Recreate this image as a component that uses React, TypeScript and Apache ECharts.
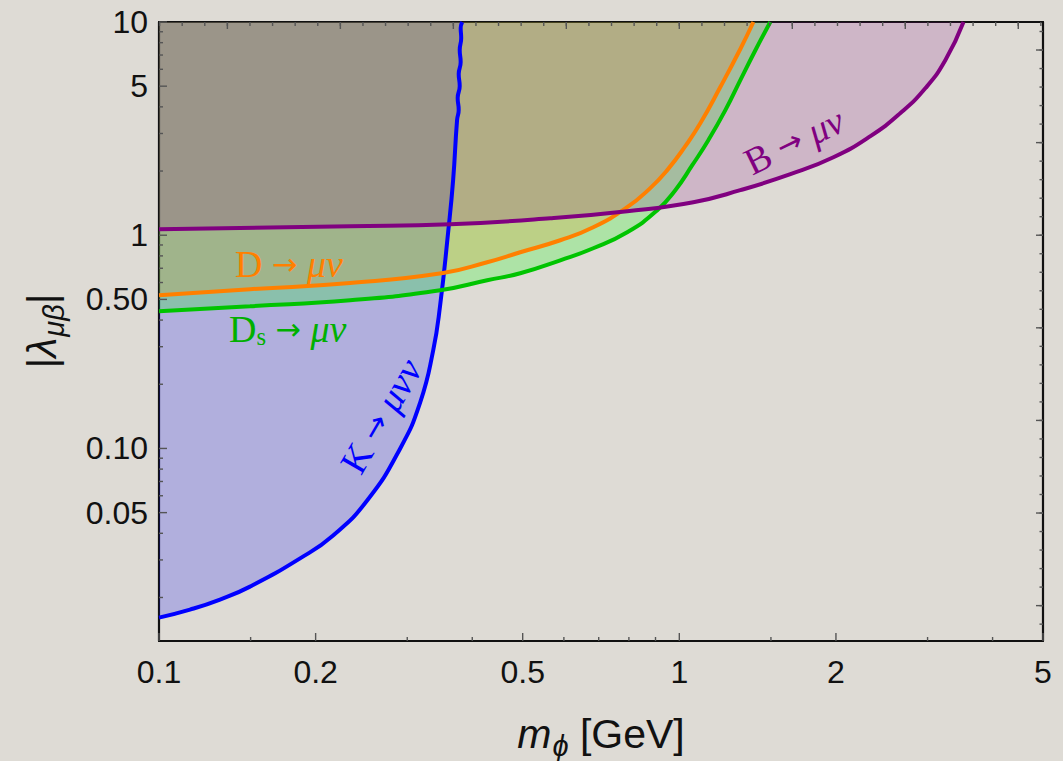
import React, { useEffect, useRef } from "react";
import * as echarts from "echarts";

const L = Math.log10;

// Axis ranges
const massRange = [0.1, 5];
const couplingRange = [0.0125, 10];

// Labelled ticks
const massTickValues = [0.1, 0.2, 0.5, 1, 2, 5];
const massTickLabels = ["0.1", "0.2", "0.5", "1", "2", "5"];
const massMinorTicks = [0.15, 0.3, 0.4, 0.6, 0.7, 0.8, 0.9, 1.5, 3, 4];
const couplingTickValues = [0.05, 0.1, 0.5, 1, 5, 10];
const couplingTickLabels = ["0.05", "0.10", "0.50", "1", "5", "10"];
const couplingMinorTicks = [
  0.02, 0.03, 0.04, 0.06, 0.07, 0.08, 0.09, 0.2, 0.3, 0.4, 0.6, 0.7, 0.8, 0.9,
  2, 3, 4, 6, 7, 8, 9,
];
// Mirror frame ticks on top / right sit at natural-log steps
const topMajorExponents = [-2, -1.5, -1, -0.5, 0, 0.5, 1, 1.5];
const topMinorStep = 0.1;
const rightMajorExponents = [-4, -3, -2, -1, 0, 1, 2];
const rightMinorStep = 0.2;

// K -> mu nu nu (numerically noisy near the kinematic edge)
const kMass = [
  0.1, 0.1147, 0.131, 0.1496, 0.1867, 0.2161, 0.2512, 0.2908, 0.3177, 0.3365,
  0.347, 0.3595, 0.3675, 0.374, 0.3767, 0.375, 0.3784, 0.3767, 0.38, 0.3784,
  0.3809, 0.38, 0.3826,
];
const kCoupling = [
  0.01609, 0.01754, 0.01955, 0.02249, 0.0305, 0.0391, 0.057, 0.1, 0.1644,
  0.2884, 0.469, 1.033, 1.81, 3.47, 3.87, 4.4, 5.01, 5.7, 6.49, 7.39, 8.41,
  9.37, 10,
];

// D -> mu nu
const dMass = [
  0.1, 0.1496, 0.233, 0.3516, 0.4273, 0.4946, 0.5905, 0.6833, 0.794, 0.8795,
  0.948, 1.027, 1.098, 1.199, 1.31, 1.388,
];
const dCoupling = [
  0.523, 0.558, 0.597, 0.665, 0.747, 0.832, 0.947, 1.09, 1.353, 1.663, 2.02,
  2.617, 3.356, 4.953, 7.47, 10,
];

// Ds -> mu nu
const dsMass = [
  0.1, 0.1496, 0.233, 0.347, 0.4273, 0.4946, 0.5905, 0.6833, 0.794, 0.9072,
  0.9824, 1.059, 1.137, 1.226, 1.31, 1.401, 1.496,
];
const dsCoupling = [
  0.4396, 0.464, 0.495, 0.552, 0.615, 0.663, 0.763, 0.869, 1.033, 1.31, 1.627,
  2.13, 2.79, 3.86, 5.34, 7.39, 10,
];

// B -> mu nu
const bMass = [
  0.1, 0.233, 0.3627, 0.5648, 0.794, 1.064, 1.31, 1.635, 1.978, 2.33, 2.661,
  2.973, 3.247, 3.517,
];
const bCoupling = [
  1.067, 1.102, 1.126, 1.2, 1.296, 1.429, 1.627, 1.933, 2.32, 2.916, 3.74, 4.9,
  6.63, 10,
];

const fontSans = '"Liberation Sans", Arial, Helvetica, sans-serif';
const fontSerif = '"Liberation Serif", "Times New Roman", "DejaVu Serif", serif';
const fontArrow = '"DejaVu Sans", "Liberation Sans", sans-serif';

const X_MIN = L(massRange[0]);
const X_MAX = L(massRange[1]);
const Y_MIN = L(couplingRange[0]);
const Y_MAX = L(couplingRange[1]);

const toPairs = (xs: number[], ys: number[]) => xs.map((x, i) => [L(x), L(ys[i])]);

const curves = [
  { name: "K", mass: kMass, coupling: kCoupling, line: "#0000ff", fill: "rgba(0,0,255,0.2)" },
  { name: "Ds", mass: dsMass, coupling: dsCoupling, line: "#00c400", fill: "rgba(0,255,0,0.22)" },
  { name: "D", mass: dMass, coupling: dCoupling, line: "#ff8000", fill: "rgba(255,128,0,0.19)" },
  { name: "B", mass: bMass, coupling: bCoupling, line: "#800080", fill: "rgba(128,0,128,0.17)" },
];

const labelFor = (v: number, values: number[], labels: string[]) => {
  const i = values.findIndex((t) => Math.abs(L(t) - v) < 1e-6);
  return i >= 0 ? labels[i] : "";
};

function buildTicks() {
  // [x, y, side, length]; side: 0 bottom, 1 top, 2 left, 3 right
  const out: number[][] = [];
  massTickValues.forEach((v) => out.push([L(v), Y_MIN, 0, 8]));
  massMinorTicks.forEach((v) => out.push([L(v), Y_MIN, 0, 4]));
  couplingTickValues.forEach((v) => out.push([X_MIN, L(v), 2, 8]));
  couplingMinorTicks.forEach((v) => out.push([X_MIN, L(v), 2, 4]));
  for (let k = -23; k <= 16; k++) {
    const v = Math.exp(k * topMinorStep);
    if (v >= massRange[0] && v <= massRange[1]) out.push([L(v), Y_MAX, 1, 4]);
  }
  topMajorExponents.forEach((e) => out.push([L(Math.exp(e)), Y_MAX, 1, 7]));
  for (let k = -22; k <= 12; k++) {
    const v = Math.exp(k * rightMinorStep);
    if (v >= couplingRange[0] && v <= couplingRange[1]) out.push([X_MAX, L(v), 3, 3.5]);
  }
  rightMajorExponents.forEach((e) => out.push([X_MAX, L(Math.exp(e)), 3, 7]));
  return out;
}

export default function App() {
  const ref = useRef<HTMLDivElement>(null);

  useEffect(() => {
    document.body.style.margin = "0";
    const chart = echarts.init(ref.current!, null, { renderer: "svg" });

    const areaSeries = curves.map((c) => ({
      type: "line",
      name: c.name + "-fill",
      data: toPairs(c.mass, c.coupling),
      xAxisIndex: 0,
      yAxisIndex: 0,
      symbol: "none",
      showSymbol: false,
      smooth: 0.5,
      silent: true,
      z: 2,
      lineStyle: { width: 0, opacity: 0 },
      areaStyle: { color: c.fill, opacity: 1, origin: "end" },
    }));

    const lineSeries = curves.map((c) => ({
      type: "line",
      name: c.name,
      data: toPairs(c.mass, c.coupling),
      xAxisIndex: 0,
      yAxisIndex: 0,
      symbol: "none",
      showSymbol: false,
      smooth: 0.5,
      silent: true,
      z: 3,
      lineStyle: { color: c.line, width: 4 },
    }));

    const tickSeries = {
      type: "custom",
      name: "frame-ticks",
      xAxisIndex: 0,
      yAxisIndex: 0,
      silent: true,
      clip: false,
      z: 6,
      dimensions: ["x", "y", "side", "len"],
      encode: { x: 0, y: 1 },
      data: buildTicks(),
      renderItem: (params: any, api: any) => {
        const p = api.coord([api.value(0), api.value(1)]);
        const side = api.value(2);
        const len = api.value(3);
        let x2 = p[0];
        let y2 = p[1];
        if (side === 0) y2 -= len;
        else if (side === 1) y2 += len;
        else if (side === 2) x2 += len;
        else x2 -= len;
        return {
          type: "line",
          shape: { x1: p[0], y1: p[1], x2, y2 },
          style: { stroke: "#555", lineWidth: 1.4 },
        };
      },
    };

    const frameLine = { show: true, onZero: false, lineStyle: { color: "#111", width: 2.2 } };

    const serifRich = (color: string, size: number) => ({
      r: { fontFamily: fontSerif, fontSize: size, fill: color },
      a: { fontFamily: fontArrow, fontSize: size * 0.8, fill: color },
      i: { fontFamily: fontSerif, fontSize: size, fontStyle: "italic", fill: color },
      s: { fontFamily: fontSerif, fontSize: size * 0.65, fill: color, padding: [14, 0, 0, 0] },
    });

    const curveLabel = (
      text: string,
      x: number,
      y: number,
      color: string,
      rotation: number,
      align: string,
    ) => ({
      type: "text",
      x,
      y,
      rotation,
      z: 20,
      silent: true,
      style: {
        text,
        rich: serifRich(color, 38),
        fill: color,
        font: `38px ${fontSerif}`,
        align,
        verticalAlign: "middle",
        textAlign: align,
        textVerticalAlign: "middle",
      },
    });

    const titleRich = {
      i: { fontFamily: fontSans, fontSize: 41, fontStyle: "italic", fill: "#111" },
      sub: { fontFamily: fontSans, fontSize: 29, fontStyle: "italic", fill: "#111", padding: [24, 0, 0, 1] },
      n: { fontFamily: fontSans, fontSize: 41, fill: "#111" },
    };

    const option = {
      animation: false,
      backgroundColor: "transparent",
      grid: { left: 159, right: 20, top: 22, bottom: 120, containLabel: false, outerBoundsMode: "none" },
      xAxis: [
        {
          type: "value",
          min: X_MIN,
          max: X_MAX,
          position: "bottom",
          axisLine: frameLine,
          axisTick: { show: false },
          splitLine: { show: false },
          axisLabel: {
            show: true,
            customValues: massTickValues.map(L),
            formatter: (v: number) => labelFor(v, massTickValues, massTickLabels),
            fontSize: 32,
            fontFamily: fontSans,
            color: "#111",
            margin: 15,
          },
        },
        {
          type: "value",
          min: X_MIN,
          max: X_MAX,
          position: "top",
          axisLine: frameLine,
          axisTick: { show: false },
          splitLine: { show: false },
          axisLabel: { show: false },
        },
      ],
      yAxis: [
        {
          type: "value",
          min: Y_MIN,
          max: Y_MAX,
          position: "left",
          axisLine: frameLine,
          axisTick: { show: false },
          splitLine: { show: false },
          axisLabel: {
            show: true,
            customValues: couplingTickValues.map(L),
            formatter: (v: number) => labelFor(v, couplingTickValues, couplingTickLabels),
            fontSize: 32,
            fontFamily: fontSans,
            color: "#111",
            margin: 11,
          },
        },
        {
          type: "value",
          min: Y_MIN,
          max: Y_MAX,
          position: "right",
          axisLine: frameLine,
          axisTick: { show: false },
          splitLine: { show: false },
          axisLabel: { show: false },
        },
      ],
      series: [...areaSeries, ...lineSeries, tickSeries],
      graphic: [
        curveLabel("{r|D }{a|→}{r| }{i|μν}", 235, 264, "#ff8000", 0, "left"),
        curveLabel("{r|D}{s|s}{r| }{a|→}{r| }{i|μν}", 229, 329, "#00b000", 0, "left"),
        curveLabel("{r|K }{a|→}{r| }{i|μνν}", 381, 416, "#0000ff", (60 * Math.PI) / 180, "center"),
        curveLabel("{r|B }{a|→}{r| }{i|μν}", 794, 141, "#800080", (26 * Math.PI) / 180, "center"),
        {
          type: "text",
          x: 601,
          y: 734,
          z: 20,
          silent: true,
          style: {
            text: "{i|m}{sub|ϕ}{n| [GeV]}",
            rich: titleRich,
            font: `41px ${fontSans}`,
            fill: "#111",
            align: "center",
            verticalAlign: "middle",
            textAlign: "center",
            textVerticalAlign: "middle",
          },
        },
        {
          type: "text",
          x: 42,
          y: 331,
          rotation: Math.PI / 2,
          z: 20,
          silent: true,
          style: {
            text: "{n||}{i|λ}{sub|μβ}{n||}",
            rich: titleRich,
            font: `41px ${fontSans}`,
            fill: "#111",
            align: "center",
            verticalAlign: "middle",
            textAlign: "center",
            textVerticalAlign: "middle",
          },
        },
      ],
    };

    chart.setOption(option as any);
    return () => chart.dispose();
  }, []);

  return (
    <div
      style={{
        position: "fixed",
        left: 0,
        top: 0,
        width: 1063,
        height: 761,
        background: "#dedbd5",
      }}
    >
      <div ref={ref} style={{ width: 1063, height: 761 }} />
    </div>
  );
}
